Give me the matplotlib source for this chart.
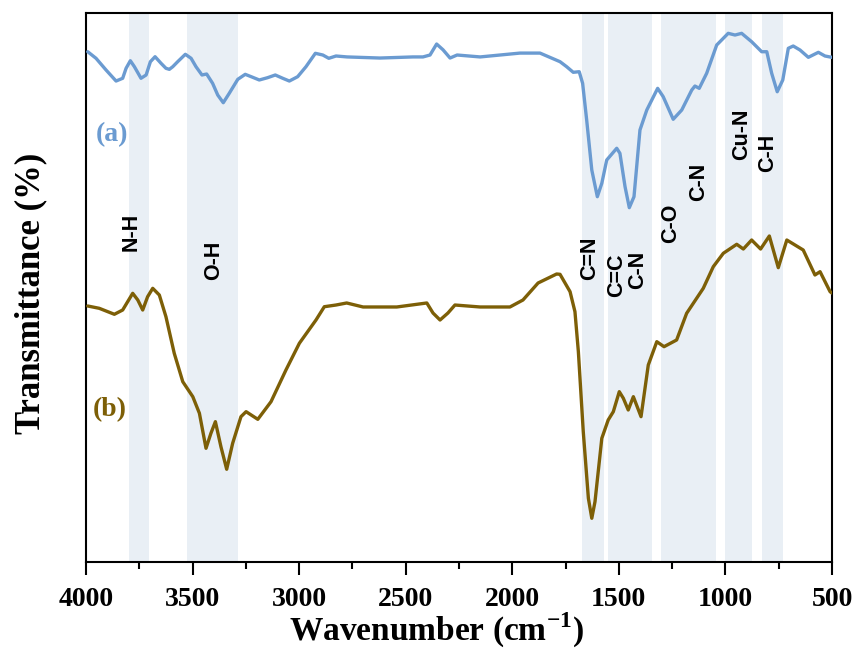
import matplotlib
matplotlib.use("Agg")
import matplotlib.pyplot as plt
from matplotlib.ticker import MultipleLocator

plt.rcParams["mathtext.fontset"] = "custom"
plt.rcParams["mathtext.rm"] = "Liberation Serif:bold"
plt.rcParams["mathtext.bf"] = "Liberation Serif:bold"

# FTIR spectra, wavenumber (cm-1) vs transmittance (offset, arbitrary scale)
wn_a = [3992, 3953, 3906, 3859, 3828, 3812, 3792, 3773, 3742, 3718, 3698, 3676,
        3648, 3625, 3609, 3593, 3570, 3534, 3507, 3484, 3456, 3434, 3406, 3382,
        3356, 3328, 3288, 3253, 3218, 3187, 3148, 3112, 3077, 3046, 3007, 2968,
        2924, 2889, 2861, 2827, 2775, 2621, 2466, 2419, 2386, 2355, 2325, 2292,
        2259, 2151, 1964, 1870, 1776, 1745, 1714, 1686, 1670, 1651, 1627, 1601,
        1580, 1557, 1510, 1495, 1471, 1451, 1429, 1401, 1369, 1318, 1292, 1245,
        1205, 1158, 1143, 1123, 1088, 1041, 987, 955, 924, 877, 830, 806,
        783, 757, 731, 705, 682, 650, 611, 564, 533, 501]
t_a = [92.95, 91.75, 89.62, 87.61, 88.11, 89.93, 91.31, 90.22, 88.11, 88.71,
       91.13, 92.04, 90.84, 89.93, 89.74, 90.22, 91.13, 92.48, 91.75, 90.22,
       88.71, 88.89, 87.19, 85.06, 83.66, 85.37, 87.92, 88.83, 88.29, 87.80,
       88.22, 88.71, 88.11, 87.61, 88.40, 90.22, 92.66, 92.35, 91.75, 92.17,
       92.0, 91.8, 92.0, 92.0, 92.35, 94.35, 93.3, 91.8, 92.35, 92.0,
       92.7, 92.7, 91.13, 90.22, 89.20, 89.31, 87.19, 80.51, 71.40, 66.54,
       68.98, 73.22, 75.36, 74.44, 68.36, 64.54, 66.54, 78.69, 82.33, 86.28,
       84.76, 80.64, 82.33, 85.97, 86.70, 86.28, 89.02, 94.17, 96.30, 95.99,
       96.30, 94.77, 92.95, 92.95, 89.02, 85.66, 87.80, 93.57, 93.99, 93.26,
       91.93, 92.84, 92.17, 91.93]

wn_b = [3992, 3938, 3867, 3828, 3781, 3757, 3734, 3711, 3687, 3656, 3625, 3586,
        3546, 3499, 3468, 3437, 3414, 3393, 3367, 3340, 3312, 3273, 3249, 3194,
        3132, 3062, 2999, 2921, 2882, 2827, 2777, 2700, 2542, 2401, 2372, 2339,
        2302, 2269, 2151, 2011, 1950, 1879, 1792, 1776, 1729, 1706, 1690, 1667,
        1643, 1627, 1612, 1580, 1550, 1526, 1498, 1479, 1456, 1432, 1396, 1362,
        1322, 1288, 1229, 1182, 1104, 1057, 1010, 947, 916, 877, 835, 794,
        752, 712, 635, 580, 556, 509, 501]
t_b = [46.63, 46.21, 45.12, 45.90, 48.94, 47.72, 45.90, 48.32, 49.85, 48.63,
       44.68, 38.01, 32.84, 30.11, 27.09, 20.71, 23.44, 25.56, 21.00, 16.89,
       21.62, 26.47, 27.38, 25.99, 29.20, 34.97, 39.84, 44.08, 46.50, 46.81,
       47.18, 46.45, 46.45, 47.18, 45.35, 44.08, 45.35, 46.81, 46.45, 46.45,
       47.72, 50.82, 52.46, 52.40, 49.24, 45.59, 38.31, 23.73, 11.60, 7.96,
       10.98, 22.53, 25.87, 27.38, 31.02, 29.82, 27.69, 30.11, 26.47, 35.88,
       40.13, 39.22, 40.44, 45.30, 49.85, 53.79, 56.23, 57.87, 57.01, 58.65,
       57.01, 59.38, 53.61, 58.65, 56.83, 52.28, 52.88, 49.24, 49.0]

# highlighted bands (high, low wavenumber)
bands = [(3800, 3705), (3525, 3285), (1675, 1570), (1550, 1345),
         (1300, 1045), (1000, 875), (830, 730)]

# band assignments: text, wavenumber, height
bond_labels = ["N-H", "O-H", "C=N", "C=C", "C-N", "C-O", "C-N", "Cu-N", "C-H"]
bond_wn = [3789, 3400, 1635, 1509, 1410, 1255, 1124, 922, 800]
bond_t = [60.1, 55.0, 55.4, 52.3, 53.2, 61.7, 69.2, 78.0, 74.5]

color_a = "#6b9bd1"
color_b = "#7d5f07"

fig = plt.figure(figsize=(8.55, 6.54), dpi=100)
ax = fig.add_axes([0.1006, 0.1407, 0.8725, 0.8394])

for hi, lo in bands:
    ax.axvspan(lo, hi, color="#e9eff5", lw=0, zorder=0)

ax.plot(wn_a, t_a, color=color_a, lw=2.4, zorder=3,
        solid_joinstyle="round", solid_capstyle="round")
ax.plot(wn_b, t_b, color=color_b, lw=2.4, zorder=3,
        solid_joinstyle="round", solid_capstyle="round")

for txt, w, t in zip(bond_labels, bond_wn, bond_t):
    ax.text(w, t, txt, rotation=90, ha="center", va="center",
            fontsize=15.5, fontweight="bold", family="Liberation Sans", zorder=4)

ax.text(3878, 77.8, "(a)", color=color_a, fontsize=20, fontweight="bold",
        family="Liberation Serif", ha="center", va="center")
ax.text(3887, 27.7, "(b)", color=color_b, fontsize=20, fontweight="bold",
        family="Liberation Serif", ha="center", va="center")

ax.set_xlim(4000, 500)
ax.set_ylim(0, 100)
ax.xaxis.set_major_locator(MultipleLocator(500))
ax.xaxis.set_minor_locator(MultipleLocator(250))
ax.tick_params(axis="x", which="major", direction="out", length=9, width=1.5, pad=9)
ax.tick_params(axis="x", which="minor", direction="out", length=5, width=1.5)
ax.set_yticks([])
for lab in ax.get_xticklabels():
    lab.set_family("Liberation Serif")
    lab.set_fontweight("bold")
    lab.set_fontsize(20)
for sp in ax.spines.values():
    sp.set_linewidth(1.5)

ax.set_xlabel("Wavenumber (cm$^{\\mathbf{-1}}$)", family="Liberation Serif",
              fontweight="bold", fontsize=24, labelpad=-1)
ax.xaxis.label.set_x(0.47)
ax.set_ylabel("Transmittance (%)", family="Liberation Serif",
              fontweight="bold", fontsize=25, labelpad=28)
ax.yaxis.label.set_y(0.49)

fig.savefig("out.png", dpi=100)
